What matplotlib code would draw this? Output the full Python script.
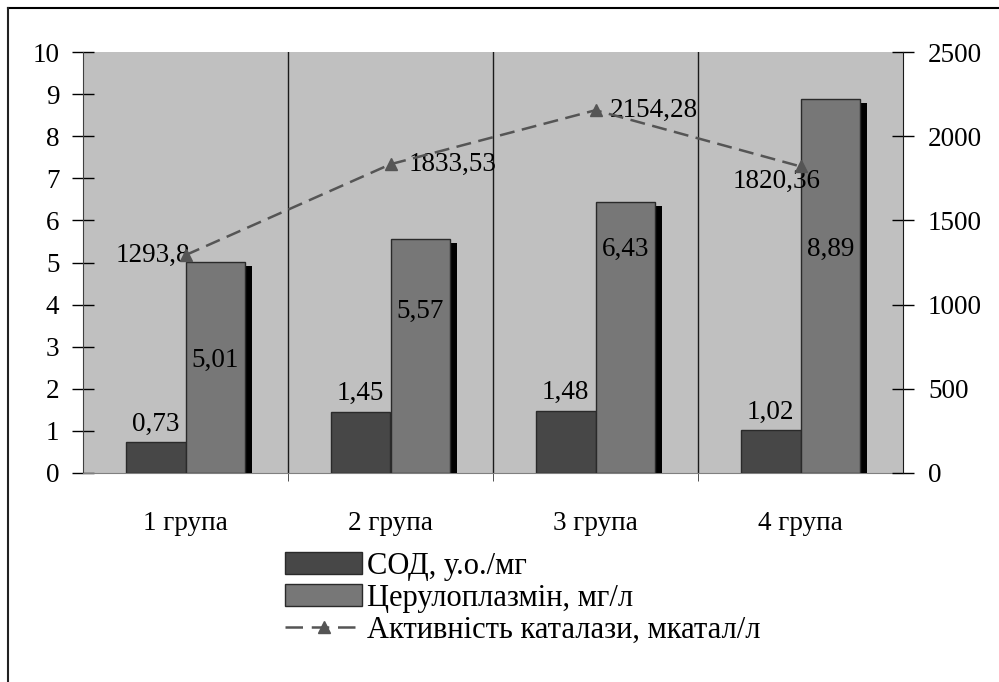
import matplotlib
matplotlib.use("Agg")
import matplotlib.pyplot as plt
import matplotlib.patheffects as pe
from matplotlib.lines import Line2D
from matplotlib.patches import Patch
import numpy as np

# ---- data ----
groups = ["1 група", "2 група", "3 група", "4 група"]
sod = [0.73, 1.45, 1.48, 1.02]
cerulo = [5.01, 5.57, 6.43, 8.89]
catalase = [1293.8, 1833.53, 2154.28, 1820.36]

sod_name = "СОД, у.о./мг"
cerulo_name = "Церулоплазмін, мг/л"
cat_name = "Активність каталази, мкатал/л"

# label placement (style only)
cerulo_label_y = [2.68, 3.85, 5.30, 5.32]
cat_label_off = [(3, 0), (13, 0), (10, 0), (-17, -11)]
cat_label_ha = ["right", "left", "left", "center"]

plt.rcParams["font.family"] = ["Liberation Serif", "DejaVu Serif"]
FS = 19.5
FS_LEG = 22

SOD_C = "#474747"
CER_C = "#777777"
LINE_C = "#555555"
DASH = (0, (6, 3))

def fmt(v):
    return ("%g" % v).replace(".", ",")

fig = plt.figure(figsize=(9.99, 6.82), dpi=100)
ax = fig.add_axes([83/999, 1-473/682, (903-83)/999, (473-52)/682])
ax.set_facecolor("#C0C0C0")

x = np.arange(len(groups))
w = 0.29
shadow = [pe.SimplePatchShadow(offset=(5, -3), shadow_rgbFace="black", alpha=1.0), pe.Normal()]
ax.bar(x - w/2, sod, w, color=SOD_C, edgecolor="#2a2a2a", linewidth=1,
       path_effects=shadow, zorder=3)
ax.bar(x + w/2, cerulo, w, color=CER_C, edgecolor="#2a2a2a", linewidth=1,
       path_effects=shadow, zorder=3)

for xi, v in zip(x, sod):
    ax.annotate(fmt(v), (xi - w/2, v), xytext=(0, 4), textcoords="offset points",
                ha="center", va="bottom", fontsize=FS, zorder=5)
for xi, v, ly in zip(x, cerulo, cerulo_label_y):
    ax.text(xi + w/2, ly, fmt(v), ha="center", va="center", fontsize=FS, zorder=5)

ax.set_xlim(-0.5, len(groups) - 0.5)
ax.set_ylim(0, 10)
ax.set_yticks(range(0, 11))
ax.set_xticks(x)
ax.set_xticklabels(groups, fontsize=FS)
ax.set_xticks(np.arange(0.5, len(groups) - 0.5, 1), minor=True)
ax.tick_params(axis="x", which="major", length=0, pad=27)
ax.tick_params(axis="x", which="minor", length=6, color="#333333")
ax.tick_params(axis="y", direction="inout", length=16, width=1, labelsize=FS, pad=9)
ax.grid(True, axis="x", which="minor", color="#1a1a1a", linewidth=1, zorder=1)
ax.set_axisbelow(True)
for s in ["top", "right"]:
    ax.spines[s].set_visible(False)
ax.spines["left"].set_color("#404040")
ax.spines["bottom"].set_color("#808080")

ax2 = ax.twinx()
ax2.set_ylim(0, 2500)
ax2.set_yticks(range(0, 2501, 500))
ax2.tick_params(axis="y", direction="inout", length=16, width=1, labelsize=FS, pad=10)
for s in ["top", "left", "bottom"]:
    ax2.spines[s].set_visible(False)
ax2.spines["right"].set_color("#1a1a1a")
ax2.plot(x, catalase, color=LINE_C, linestyle=DASH, linewidth=1.8,
         marker="^", markersize=9, zorder=4)
for xi, v, off, ha in zip(x, catalase, cat_label_off, cat_label_ha):
    ax2.annotate(fmt(v), (xi, v), xytext=off, textcoords="offset points",
                 ha=ha, va="center", fontsize=FS)

handles = [Patch(facecolor=SOD_C, edgecolor="#2a2a2a"),
           Patch(facecolor=CER_C, edgecolor="#2a2a2a"),
           Line2D([0], [0], color=LINE_C, linestyle=(0, (7, 3.5)), linewidth=1.8,
                  marker="^", markersize=9)]
fig.legend(handles, [sod_name, cerulo_name, cat_name], loc="upper left",
           bbox_to_anchor=(285/999, 1-552/682), frameon=False, fontsize=FS_LEG,
           handlelength=2.53, handleheight=0.72, handletextpad=0.15, labelspacing=0.1,
           borderpad=0, borderaxespad=0)

# outer frame (top and left edges visible)
fig.add_artist(Line2D([8/999, 1], [1-8/682, 1-8/682], color="black", linewidth=1.5))
fig.add_artist(Line2D([8/999, 8/999], [0, 1-8/682], color="#222222", linewidth=1.5))

fig.savefig("out.png", dpi=100)
